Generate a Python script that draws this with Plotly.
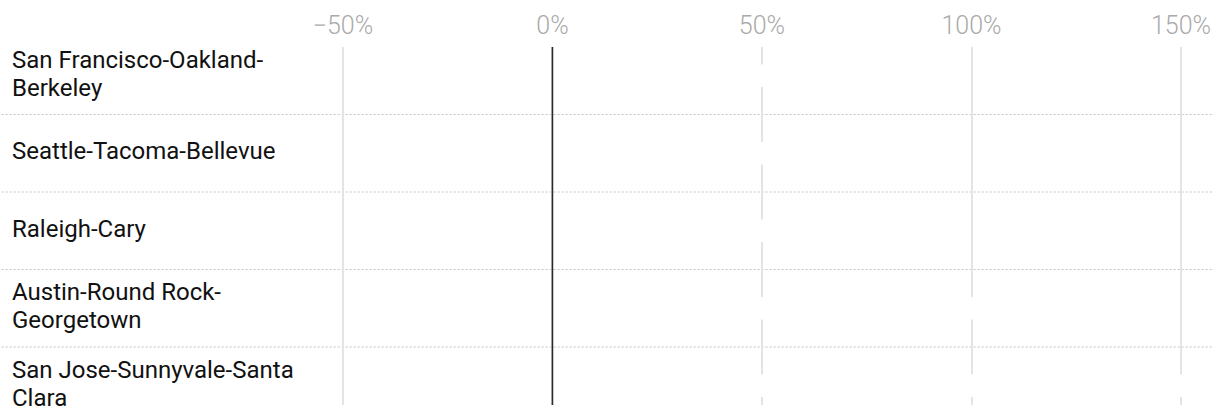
import plotly.graph_objects as go

# ---- data ----
categories = [
    "San Francisco-Oakland-Berkeley",
    "Seattle-Tacoma-Bellevue",
    "Raleigh-Cary",
    "Austin-Round Rock-Georgetown",
    "San Jose-Sunnyvale-Santa Clara",
]
category_labels = [
    "San Francisco-Oakland-<br>Berkeley",
    "Seattle-Tacoma-Bellevue",
    "Raleigh-Cary",
    "Austin-Round Rock-<br>Georgetown",
    "San Jose-Sunnyvale-Santa<br>Clara",
]
values = [75, 65, 60, 120, 170]
tick_values = [-50, 0, 50, 100, 150]
tick_labels = ["\u221250%", "0%", "50%", "100%", "150%"]

W, H = 1219, 413
ML, MR, MT, MB = 301, 12, 47, 8
plot_w = W - ML - MR
LINE_H = 28

fig = go.Figure()
fig.add_trace(go.Bar(
    x=values, y=categories, orientation="h",
    marker=dict(color="white", line=dict(width=0)),
    width=0.29, hoverinfo="skip", showlegend=False,
))

# category labels on the left (one annotation per text line)
label_x = (8 - ML) / plot_w
for cat, lab in zip(categories, category_labels):
    lines = lab.split("<br>")
    n = len(lines)
    for k, ln in enumerate(lines):
        fig.add_annotation(
            x=label_x, xref="paper", y=cat, yref="y",
            text=ln, showarrow=False, xanchor="left", align="left",
            yanchor="middle", yshift=((n - 1) / 2 - k) * LINE_H + 2,
            font=dict(family="Roboto", size=24, color="#111111"),
        )

# dotted row separators
for i in range(len(categories) - 1):
    fig.add_shape(
        type="line", xref="paper", yref="y",
        x0=-ML / plot_w, x1=(W - ML) / plot_w, y0=i + 0.5, y1=i + 0.5,
        line=dict(color="#c4c4c4", width=1, dash="2px,2px"),
        layer="below",
    )

# zero line on top
fig.add_shape(
    type="line", xref="x", yref="paper", x0=0, x1=0, y0=0, y1=1,
    line=dict(color="#2a2a2a", width=1.6), layer="above",
)

fig.update_layout(
    width=W, height=H,
    margin=dict(l=ML, r=MR, t=MT, b=MB),
    plot_bgcolor="white", paper_bgcolor="white",
    bargap=0.7,
    xaxis=dict(
        side="top", range=[-60, 155], tickvals=tick_values, ticktext=tick_labels,
        showgrid=True, gridcolor="#e4e4e4", gridwidth=2, zeroline=False,
        showline=False, ticks="", ticklabelstandoff=7,
        tickfont=dict(family="Roboto", size=25, color="#aaaaaa", weight=300),
        fixedrange=True,
    ),
    yaxis=dict(
        type="category", categoryorder="array", categoryarray=categories,
        range=[4.248, -0.371], showticklabels=False, showgrid=False,
        zeroline=False, showline=False, ticks="", fixedrange=True,
    ),
)

fig.write_html("out.html", config={"displayModeBar": False},
               post_script="document.body.style.margin='0';")
